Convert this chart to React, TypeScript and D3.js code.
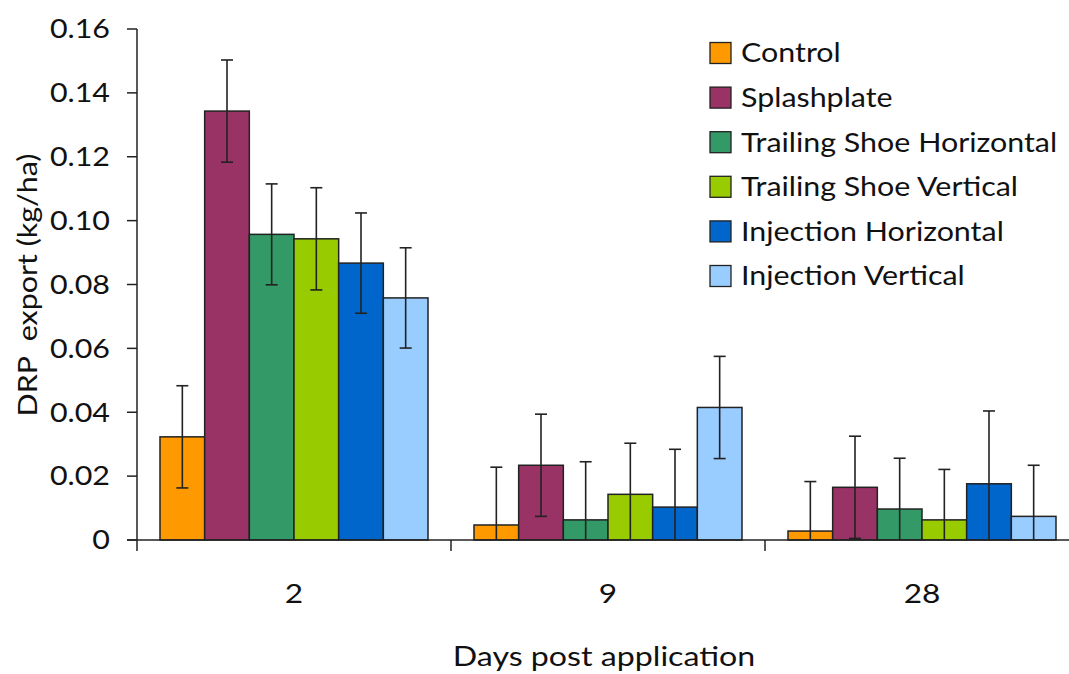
import React from "react";
import * as d3 from "d3";

const days = ["2", "9", "28"];
const treatments = [
  "Control",
  "Splashplate",
  "Trailing Shoe Horizontal",
  "Trailing Shoe Vertical",
  "Injection Horizontal",
  "Injection Vertical",
];
const colors = ["#FF9900", "#993366", "#339966", "#99CC00", "#0066CC", "#99CCFF"];

// mean DRP export per treatment, one array per sampling day
const day2Means = [0.0323, 0.1343, 0.0957, 0.0943, 0.0867, 0.0758];
const day9Means = [0.0047, 0.0234, 0.0063, 0.0143, 0.0103, 0.0415];
const day28Means = [0.0028, 0.0165, 0.0097, 0.0063, 0.0176, 0.0074];

// error bar half-widths
const day2Err = [0.0160, 0.0160, 0.0158, 0.0160, 0.0157, 0.0157];
const day9Err = [0.0181, 0.0160, 0.0182, 0.0160, 0.0181, 0.0160];
const day28Err = [0.0155, 0.0160, 0.0159, 0.0158, 0.0228, 0.0160];

const yTicks = [0, 0.02, 0.04, 0.06, 0.08, 0.1, 0.12, 0.14, 0.16];

const means = [day2Means, day9Means, day28Means];
const errs = [day2Err, day9Err, day28Err];

const W = 1069;
const H = 674;
const left = 137;
const right = 1079;
const top = 29;
const bottom = 540;
const font = "Lato, 'Open Sans', sans-serif";
const ink = "#222";
const textInk = "#111";
const stretch = 1.17;

type LabelProps = {
  x: number;
  y: number;
  size: number;
  anchor?: "start" | "middle" | "end";
  rotate?: number;
  dy?: string;
  children: React.ReactNode;
};

// text widened along its own direction
function Label({ x, y, size, anchor = "start", rotate = 0, dy, children }: LabelProps) {
  return (
    <text
      transform={`translate(${x},${y}) rotate(${rotate}) scale(${stretch},1)`}
      textAnchor={anchor}
      dy={dy}
      fontFamily={font}
      fontSize={size}
      fill={textInk}
      style={{ whiteSpace: "pre" }}
    >
      {children}
    </text>
  );
}

export default function App() {
  const x0 = d3.scaleBand<string>().domain(days).range([left, right]).padding(0);
  const x1 = d3
    .scaleBand<string>()
    .domain(treatments)
    .range([0, x0.bandwidth()])
    .paddingInner(0)
    .paddingOuter(0.515);
  const y = d3.scaleLinear().domain([0, 0.16]).range([bottom, top]);
  const fmt = (v: number) => (v === 0 ? "0" : d3.format(".2f")(v));

  const bars: React.ReactNode[] = [];
  const errBars: React.ReactNode[] = [];
  days.forEach((day, gi) => {
    treatments.forEach((t, si) => {
      const v = means[gi][si];
      const e = errs[gi][si];
      const bx = x0(day)! + x1(t)!;
      const bw = x1.bandwidth();
      bars.push(
        <rect
          key={`b-${gi}-${si}`}
          x={bx}
          y={y(v)}
          width={bw}
          height={y(0) - y(v)}
          fill={colors[si]}
          stroke={ink}
          strokeWidth={1.5}
        />
      );
      const cx = bx + bw / 2;
      const hi = v + e;
      const lo = v - e;
      const capW = 6;
      errBars.push(
        <g key={`e-${gi}-${si}`} stroke={ink} strokeWidth={1.6}>
          <line x1={cx} x2={cx} y1={y(hi)} y2={y(Math.max(lo, 0))} />
          <line x1={cx - capW} x2={cx + capW} y1={y(hi)} y2={y(hi)} />
          {lo >= 0 && <line x1={cx - capW} x2={cx + capW} y1={y(lo)} y2={y(lo)} />}
        </g>
      );
    });
  });

  return (
    <svg width={W} height={H} style={{ position: "absolute", left: 0, top: 0, background: "#fff" }}>
      <rect width={W} height={H} fill="#fff" />
      {bars}
      {errBars}
      {/* y axis */}
      <line x1={left} x2={left} y1={top} y2={bottom} stroke={ink} strokeWidth={1.5} />
      {yTicks.map((t) => (
        <g key={t}>
          <line x1={left - 10} x2={left} y1={y(t)} y2={y(t)} stroke={ink} strokeWidth={1.5} />
          <Label x={left - 27} y={y(t)} dy="0.36em" anchor="end" size={26}>
            {fmt(t)}
          </Label>
        </g>
      ))}
      {/* x axis */}
      <line x1={left - 10} x2={W} y1={bottom} y2={bottom} stroke={ink} strokeWidth={1.5} />
      {[...days.map((d) => x0(d)!), right].map((gx, i) => (
        <line key={i} x1={gx} x2={gx} y1={bottom} y2={bottom + 11} stroke={ink} strokeWidth={1.5} />
      ))}
      {days.map((d) => (
        <Label key={d} x={x0(d)! + x0.bandwidth() / 2} y={603} anchor="middle" size={27}>
          {d}
        </Label>
      ))}
      <Label x={604} y={666} anchor="middle" size={27.5}>
        Days post application
      </Label>
      <Label x={37} y={285} anchor="middle" size={26} rotate={-90}>
        {"DRP  export (kg/ha)"}
      </Label>
      {/* legend */}
      {treatments.map((t, i) => {
        const ly = 53 + i * 44.6;
        return (
          <g key={t}>
            <rect x={710} y={ly - 10.5} width={21} height={21} fill={colors[i]} stroke={ink} strokeWidth={1.3} />
            <Label x={741} y={ly} dy="0.36em" size={26}>
              {t}
            </Label>
          </g>
        );
      })}
    </svg>
  );
}
